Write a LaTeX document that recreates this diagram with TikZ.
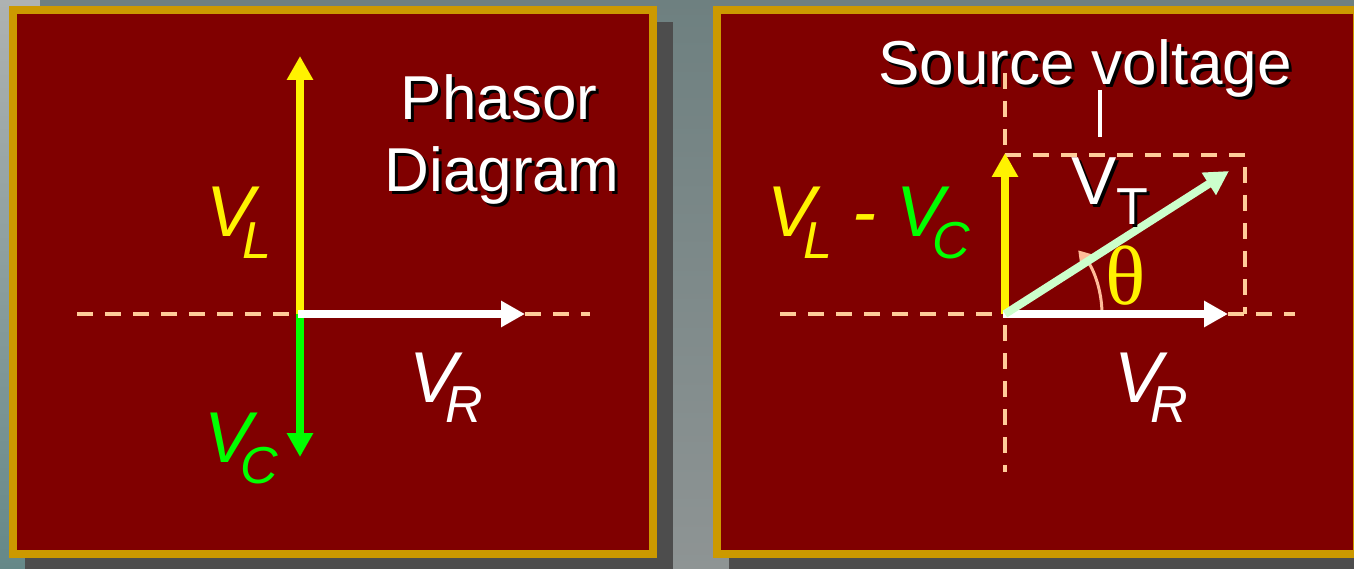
\documentclass[tikz,border=0pt]{standalone}
\usepackage{fontspec}
\setmainfont{Liberation Sans}
\newfontfamily\thetafont{Liberation Serif}
\usetikzlibrary{positioning, arrows.meta, calc}

\definecolor{slidered}{HTML}{800000}
\definecolor{slidegold}{HTML}{CC9900}
\definecolor{shadowgray}{HTML}{4D4D4D}
\definecolor{peach}{HTML}{FFCC99}
\definecolor{arcpeach}{HTML}{FFBB99}
\definecolor{palegreen}{HTML}{CCFFCC}
\definecolor{bgteal}{HTML}{6E8080}
\definecolor{bggray}{HTML}{8E9494}
\definecolor{bglight}{HTML}{AEB2B2}
\definecolor{bgdeep}{HTML}{658888}

% white text with a black drop shadow
\newcommand{\shadowed}[1]{\makebox[0pt][l]{\hspace{3pt}\raisebox{-3pt}{\color{black}#1}}#1}
\newcommand{\phsub}[2][21pt]{\raisebox{-#1}{\fontsize{52}{52}\selectfont #2}}

\begin{document}
\begin{tikzpicture}[
  x=1pt, y=-1pt,
  panel/.style={draw=slidegold, line width=8pt, fill=slidered},
  drop/.style={fill=shadowgray},
  guide/.style={peach, line width=4pt, dash pattern=on 16pt off 12pt},
  phasor/.style={line width=8pt, -{Triangle[width=25pt,length=24pt]}},
  big/.style={inner sep=0pt, font=\fontsize{62}{70}\selectfont, text=white},
  lbl/.style={inner sep=0pt, anchor=base west, font=\fontsize{72}{72}\selectfont\itshape}
]
% background
\shade[top color=bglight, bottom color=bgdeep] (0,0) rectangle (40,569);
\shade[top color=bgteal, bottom color=bggray] (40,0) rectangle (1354,569);
\useasboundingbox (0,0) rectangle (1354,569);

% panels
\fill[drop] (25,22) rectangle (673,574);
\draw[panel] (13,10) rectangle (653,554);
\fill[drop] (729,22) rectangle (1377,574);
\draw[panel] (717,10) rectangle (1357,554);

% left panel
\coordinate (oL) at (300,314);
\coordinate (axLw) at (77,314);
\coordinate (axLe) at (590,314);
\coordinate (vlTip) at (300,56);
\coordinate (vcTip) at (300,457);
\coordinate (vrTip) at (525,314);
\draw[guide] (axLw) -- (axLe);
\draw[phasor, yellow] (oL) -- (vlTip);
\draw[phasor, green] (oL) -- (vcTip);
\draw[phasor, white] ([xshift=-2pt]oL) -- (vrTip);
\node[lbl, text=yellow] (vl) at (206,237) {V\kern-12pt\phsub{L}};
\node[lbl, text=green] (vc) at (204,462) {V\kern-12pt\phsub{C}};
\node[lbl, text=white] (vrL) at (409,402) {V\kern-12pt\phsub[20pt]{R}};
\node[big, anchor=base] (phasorT) at (499,120) {\shadowed{Phasor}};
\node[big, anchor=base] (diagramT) at (502,192) {\shadowed{Diagram}};

% right panel
\coordinate (oR) at (1005,314);
\coordinate (axRw) at (780,314);
\coordinate (axRe) at (1295,314);
\coordinate (axRn) at (1005,73);
\coordinate (axRs) at (1005,472);
\coordinate (boxNE) at (1245,155);
\coordinate (boxSE) at (1245,314);
\coordinate (netTip) at (1005,153);
\coordinate (resTip) at (1228,314);
\coordinate (vtTip) at (1229,171);
\draw[guide] (axRw) -- (axRe);
\draw[guide] (axRn) -- (axRs);
\draw[guide] (oR |- boxNE) -- (boxNE) -- (boxSE);
\draw[arcpeach, line width=3pt, -{Triangle[width=16pt,length=13pt]}]
  ($(oR)+(97,0)$) arc[start angle=0, end angle=-41, radius=97];
\draw[phasor, yellow] (oR) -- (netTip);
\draw[phasor, white] ([xshift=-2pt]oR) -- (resTip);
\draw[phasor, palegreen] (oR) -- (vtTip);
\node[lbl, text=yellow] (vlvc) at (767,237)
  {V\kern-12pt\phsub{L}\ -\ \textcolor{green}{V\kern-12pt\phsub{C}}};
\node[lbl, text=white] (vrR) at (1114,402) {V\kern-12pt\phsub[20pt]{R}};
\node[inner sep=0pt, anchor=base west, text=white, font=\fontsize{68}{68}\selectfont] (vt) at (1071,205)
  {\shadowed{V}\phsub[20pt]{\shadowed{T}}};
\node[inner sep=0pt, anchor=base west, text=yellow, font=\fontsize{84}{84}\thetafont] (theta) at (1105,304) {θ};
\node[big, anchor=base] (sourceT) at (1085,85) {\shadowed{Source voltage}};
\coordinate (leadTop) at (1100,90);
\coordinate (leadBot) at (1100,137);
\draw[white, line width=4pt] (leadTop) -- (leadBot);
\end{tikzpicture}
\end{document}
